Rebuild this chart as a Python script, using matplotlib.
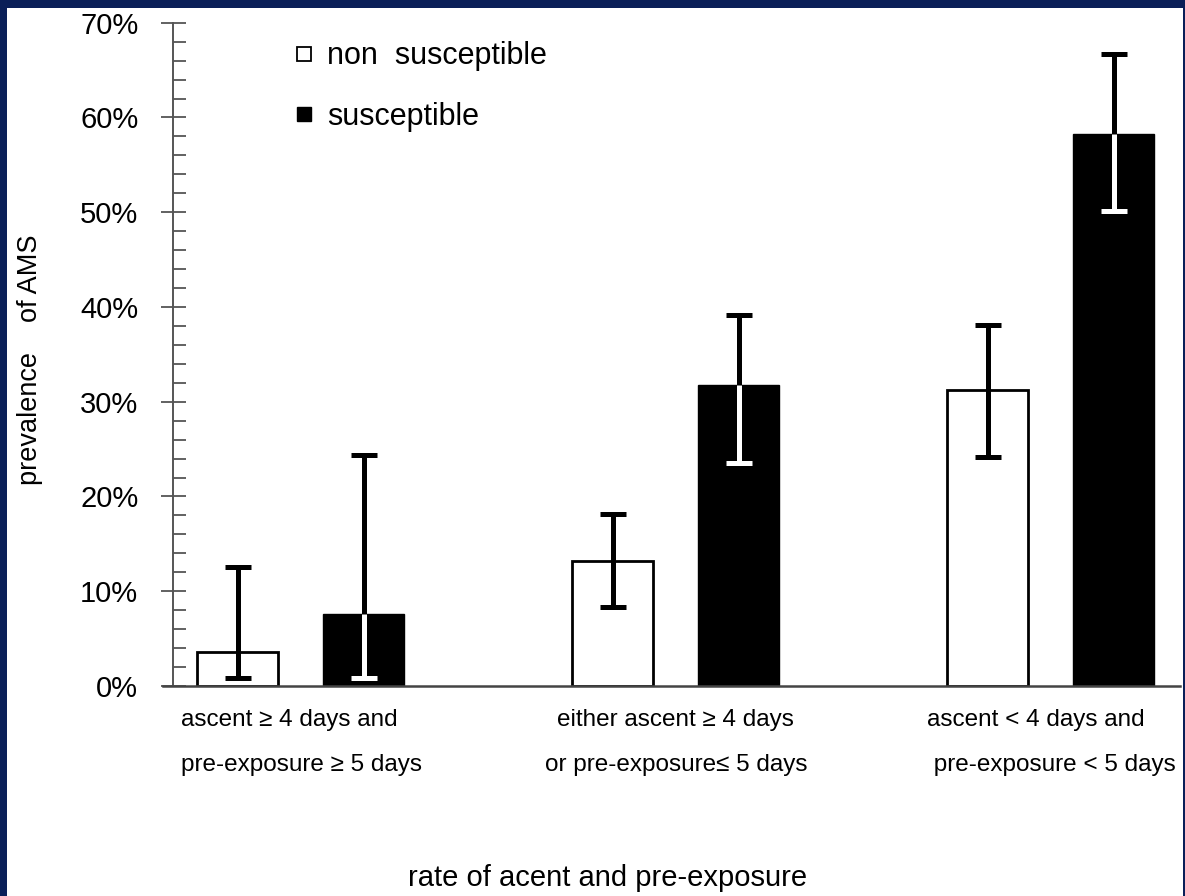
import matplotlib
matplotlib.use("Agg")
import matplotlib.pyplot as plt
import matplotlib.patches as mpatches
from matplotlib.lines import Line2D
from matplotlib.ticker import MultipleLocator, PercentFormatter
import numpy as np

# data (percent)
categories = ["ascent \u2265 4 days and\npre-exposure \u2265 5 days",
              "either ascent \u2265 4 days\nor pre-exposure\u2264 5 days",
              "ascent < 4 days and\n pre-exposure < 5 days"]
non_susc = [3.6, 13.2, 31.2]
non_susc_lo = [0.8, 8.3, 24.2]
non_susc_hi = [12.6, 18.2, 38.1]
susc = [7.6, 31.8, 58.3]
susc_lo = [0.8, 23.5, 50.1]
susc_hi = [24.4, 39.2, 66.7]

fnt = 21
leg_fnt = 22
cat_fnt = 17.5
lwdth = 3.6
bar_w = 0.216
off = 0.168
cap = 0.035

plt.rcParams['font.family'] = ['Liberation Sans', 'DejaVu Sans']

fig = plt.figure(figsize=(11.85, 8.96), dpi=100)
fig.patch.set_facecolor('#0a1f58')
# white panel
fig.patches.append(mpatches.Rectangle((7/1185, 0), 1176/1185, 888/896,
                                      transform=fig.transFigure, facecolor='white',
                                      edgecolor='none', zorder=-1))

ax = fig.add_axes([173/1185, 1 - 686/896, 1007/1185, (686 - 22.7)/896])
ax.set_zorder(2)
ax.set_facecolor('none')

x = np.arange(len(categories))
xw = x - off
xb = x + off

ax.bar(xw, non_susc, width=bar_w, color='white', edgecolor='black', linewidth=2, zorder=2)
ax.bar(xb, susc, width=bar_w, color='black', edgecolor='black', linewidth=1, zorder=2)

# error bars on the open bars
yerr_w = [np.array(non_susc) - np.array(non_susc_lo), np.array(non_susc_hi) - np.array(non_susc)]
ax.errorbar(xw, non_susc, yerr=yerr_w, fmt='none', ecolor='black', elinewidth=lwdth,
            capsize=9.5, capthick=lwdth, zorder=3)

# error bars on the filled bars: black above, white inside
ax.vlines(xb, susc, susc_hi, color='black', linewidth=lwdth, zorder=3)
ax.hlines(susc_hi, xb - cap, xb + cap, color='black', linewidth=lwdth, zorder=3)
ax.vlines(xb, susc_lo, susc, color='white', linewidth=lwdth, zorder=3)
ax.hlines(susc_lo, xb - cap, xb + cap, color='white', linewidth=lwdth, zorder=3)

ax.set_ylim(0, 70)
ax.set_xlim(-0.341, 2.344)
ax.yaxis.set_major_locator(MultipleLocator(10))
ax.yaxis.set_minor_locator(MultipleLocator(2))
ax.yaxis.set_major_formatter(PercentFormatter(decimals=0))
ax.tick_params(axis='y', which='major', direction='inout', length=18, width=1.3,
               color='#555555', labelsize=fnt, pad=16)
ax.tick_params(axis='y', which='minor', direction='in', length=9, width=1.3, color='#555555')
ax.set_xticks([])

for s in ['top', 'right']:
    ax.spines[s].set_visible(False)
ax.spines['left'].set_color('#555555')
ax.spines['left'].set_linewidth(1.4)
ax.spines['bottom'].set_color('#444444')
ax.spines['bottom'].set_linewidth(1.8)
ax.spines['bottom'].set_bounds(-0.368, 2.344)

# category labels under each group
lab_y = -2.45
ax.text(-0.32, lab_y, categories[0], ha='left', va='top', fontsize=cat_fnt,
        linespacing=2.35, transform=ax.transData, clip_on=False)
ax.text(1.0, lab_y, categories[1], ha='center', va='top', fontsize=cat_fnt,
        linespacing=2.35, transform=ax.transData, clip_on=False, multialignment='center')
ax.text(1.67, lab_y, categories[2], ha='left', va='top', fontsize=cat_fnt,
        linespacing=2.35, transform=ax.transData, clip_on=False)

fig.text(608/1185, 1 - 878/896, "rate of acent and pre-exposure", ha='center', va='center',
         fontsize=fnt)
fig.text(30/1185, 1 - 360/896, "prevalence    of AMS", rotation=90, ha='center',
         va='center', fontsize=19.5)

handles = [Line2D([], [], marker='s', linestyle='none', markersize=9.5,
                  markerfacecolor='white', markeredgecolor='black', markeredgewidth=1.3),
           Line2D([], [], marker='s', linestyle='none', markersize=9.5,
                  markerfacecolor='black', markeredgecolor='black')]
fig.legend(handles, ["non  susceptible", "susceptible"], loc='upper left',
           bbox_to_anchor=(280/1185, 1 - 26/896), frameon=False, fontsize=leg_fnt,
           handlelength=0.6, handletextpad=0.45, labelspacing=1.0, borderpad=0)

fig.savefig('out.png', dpi=100, facecolor=fig.get_facecolor())
plt.close(fig)
